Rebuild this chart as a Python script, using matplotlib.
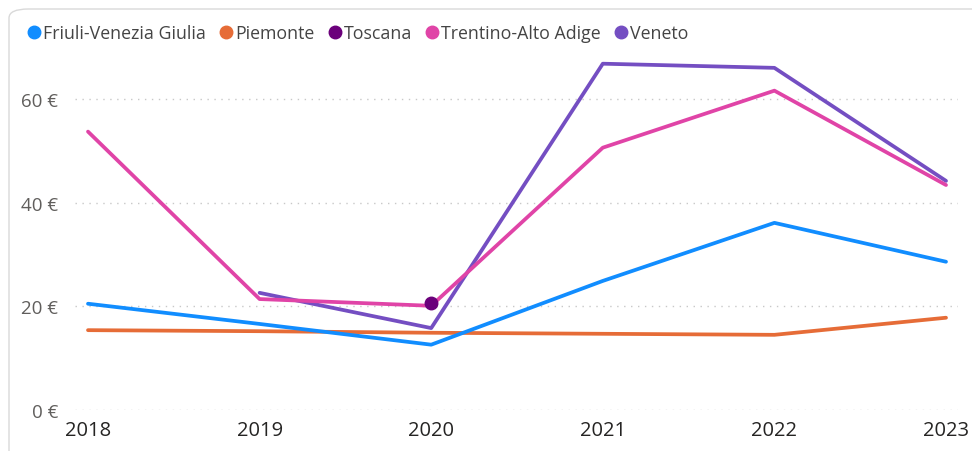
import matplotlib
matplotlib.use("Agg")
import matplotlib.pyplot as plt
import numpy as np
from matplotlib.patches import FancyBboxPatch
from matplotlib.lines import Line2D

years = [2018, 2019, 2020, 2021, 2022, 2023]
friuli = [20.5, 16.6, 12.6, 24.9, 36.1, 28.6]
piemonte = [15.4, 15.2, 14.9, 14.7, 14.5, 17.8]
toscana = [np.nan, np.nan, 20.7, np.nan, np.nan, np.nan]
trentino = [53.7, 21.4, 20.1, 50.6, 61.6, 43.4]
veneto = [np.nan, 22.6, 15.8, 66.8, 66.0, 44.2]

series_names = ["Friuli-Venezia Giulia", "Piemonte", "Toscana", "Trentino-Alto Adige", "Veneto"]
colors = ["#118DFF", "#E66C37", "#6B007B", "#E044A7", "#744EC2"]
yticks = [0, 20, 40, 60]
ytick_labels = ["0 €", "20 €", "40 €", "60 €"]

plt.rcParams['font.family'] = ['Open Sans', 'DejaVu Sans']

fig = plt.figure(figsize=(9.72, 4.52), dpi=100)
fig.patch.set_facecolor("white")

border = FancyBboxPatch((9/972, -0.05), 1.2, 1.05 - 10/452,
                        boxstyle="round,pad=0,rounding_size=0.02",
                        transform=fig.transFigure, facecolor="none",
                        edgecolor="#D9D9D9", linewidth=1.0)
fig.patches.append(border)

ax = fig.add_axes([75/972, (452-411)/452, 883/972, 366/452])
ax.set_xlim(2018 - 13/171.6, 2023 + 12/171.6)
ax.set_ylim(0, 70.6)

data = [friuli, piemonte, toscana, trentino, veneto]
for i in [1, 0, 4, 3]:
    ax.plot(years, data[i], color=colors[i], linewidth=2.7, solid_capstyle="round", zorder=3)
ax.plot(years, toscana, color=colors[2], linestyle="none", marker="o", markersize=9, zorder=4)

for s in ax.spines.values():
    s.set_visible(False)
ax.set_yticks(yticks)
ax.set_yticklabels(ytick_labels)
ax.set_xticks(years)
ax.set_xticklabels([str(y) for y in years])
ax.tick_params(axis="y", length=0, pad=12, labelsize=13.5, labelcolor="#605E5C")
ax.tick_params(axis="x", length=0, pad=7, labelsize=14.5, labelcolor="#252423")
ax.grid(axis="y", color="#C8C8C8", linestyle=(0, (1, 4)), linewidth=1.0)
ax.set_axisbelow(True)

handles = [Line2D([], [], linestyle="none", marker="o", markersize=9, color=c) for c in colors]
fig.legend(handles, series_names, loc="upper left", bbox_to_anchor=(26/972, 1 - 25/452),
           ncol=5, frameon=False, handletextpad=0.05, columnspacing=0.7,
           fontsize=12.8, labelcolor="#444444", borderaxespad=0, borderpad=0,
           handlelength=0.9)

fig.savefig("out.png", dpi=100, facecolor="white")
